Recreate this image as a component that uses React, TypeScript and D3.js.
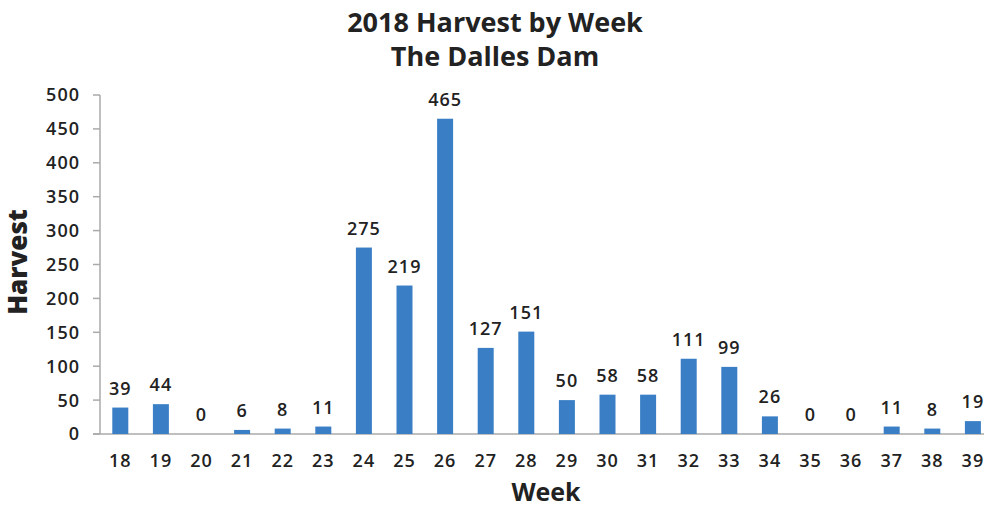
import React from "react";
import * as d3 from "d3";

const weeks = ["18","19","20","21","22","23","24","25","26","27","28","29","30","31","32","33","34","35","36","37","38","39"];
const harvest = [39,44,0,6,8,11,275,219,465,127,151,50,58,58,111,99,26,0,0,11,8,19];
const yTicks = [0,50,100,150,200,250,300,350,400,450,500];
const titleLines = ["2018 Harvest by Week", "The Dalles Dam"];

const W = 984, H = 508;
const left = 100, top = 95, bottom = 434;
const step = 40.6;

export default function App() {
  const x = d3.scaleBand<string>().domain(weeks).range([left, left + step * weeks.length]);
  const y = d3.scaleLinear().domain([0, 500]).range([bottom, top]);
  const font = "'Open Sans', 'DejaVu Sans', sans-serif";
  const bw = 16;
  return (
    <svg width={W} height={H} style={{ position: "absolute", left: 0, top: 0, background: "#fff" }} fontFamily={font}>
      {titleLines.map((t, i) => (
        <text key={t} x={495} y={32 + i * 34} textAnchor="middle" fontSize={27} fontWeight={700} fill="#222">{t}</text>
      ))}
      {/* y axis */}
      <line x1={left} x2={left} y1={top} y2={bottom} stroke="#aaa" strokeWidth={1.5} />
      {yTicks.map(t => (
        <g key={t}>
          <line x1={left - 7} x2={left} y1={y(t)} y2={y(t)} stroke="#aaa" strokeWidth={1.5} />
          <text x={80} y={y(t)} dy="0.36em" textAnchor="end" fontSize={18} fontWeight={600} letterSpacing={1} fill="#222">{t}</text>
        </g>
      ))}
      {/* x axis */}
      <line x1={left - 7} x2={W} y1={bottom} y2={bottom} stroke="#aaa" strokeWidth={1.5} />
      {weeks.map((w, i) => {
        const cx = (x(w) as number) + x.bandwidth() / 2;
        const v = harvest[i];
        return (
          <g key={w}>
            <rect x={cx - bw / 2} y={y(v)} width={bw} height={bottom - y(v)} fill="#3a7fc6" />
            <text x={cx} y={y(v) - 13} textAnchor="middle" fontSize={18} fontWeight={600} letterSpacing={1} fill="#222">{v}</text>
            <text x={cx} y={467} textAnchor="middle" fontSize={18} fontWeight={600} letterSpacing={1} fill="#222">{w}</text>
          </g>
        );
      })}
      <text x={546} y={501} textAnchor="middle" fontSize={25} fontWeight={700} fill="#222">Week</text>
      <text transform={`translate(27,262) rotate(-90)`} textAnchor="middle" fontSize={26} fontWeight={800} fill="#222">Harvest</text>
    </svg>
  );
}
